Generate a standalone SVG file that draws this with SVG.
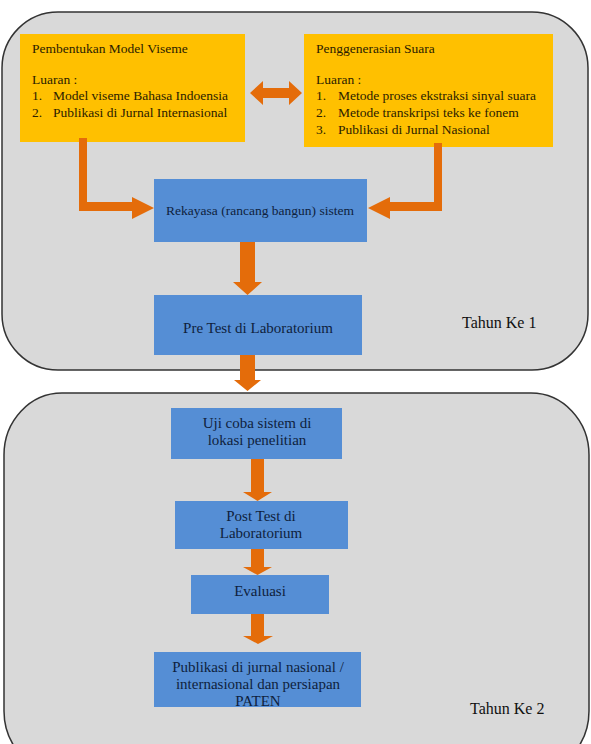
<svg xmlns="http://www.w3.org/2000/svg" width="591" height="744" viewBox="0 0 591 744">
<defs>
<style>
.panel{fill:#d9d9d9;stroke:#333;stroke-width:1.5}
.yellow{fill:#ffc000}
.blue{fill:#558ed5}
.arrow{fill:#e46c0a}
text{font-family:"Liberation Serif","Times New Roman",serif}
.yt{font-size:13.5px;fill:#2b2100}
.bt{font-size:13.5px;fill:#0f1f3d}
.bt15{font-size:15px;fill:#0f1f3d}
.lbl{font-size:16px;fill:#111}
</style>
</defs>
<rect width="591" height="744" fill="#ffffff"/>
<g id="year1">
<rect class="panel" x="2" y="12" width="586" height="358" rx="56" ry="56"/>
<text class="lbl" x="462" y="328">Tahun Ke 1</text>
</g>
<g id="year2">
<rect class="panel" x="4" y="393" width="585" height="380" rx="58" ry="62"/>
<text class="lbl" x="470" y="714">Tahun Ke 2</text>
</g>
<g id="node-viseme">
<rect class="yellow" x="20" y="34" width="225" height="108"/>
<text class="yt" x="32" y="53">Pembentukan Model Viseme</text>
<text class="yt" x="32" y="84">Luaran :</text>
<text class="yt" x="32" y="100">1.</text><text class="yt" x="53" y="100">Model viseme Bahasa Indoensia</text>
<text class="yt" x="32" y="117">2.</text><text class="yt" x="53" y="117">Publikasi di Jurnal Internasional</text>
</g>
<g id="node-suara">
<rect class="yellow" x="304" y="34" width="249" height="113"/>
<text class="yt" x="316" y="53">Penggenerasian Suara</text>
<text class="yt" x="316" y="84">Luaran :</text>
<text class="yt" x="316" y="100">1.</text><text class="yt" x="338" y="100">Metode proses ekstraksi sinyal suara</text>
<text class="yt" x="316" y="117">2.</text><text class="yt" x="338" y="117">Metode transkripsi teks ke fonem</text>
<text class="yt" x="316" y="134">3.</text><text class="yt" x="338" y="134">Publikasi di Jurnal Nasional</text>
</g>
<g id="node-rekayasa">
<rect class="blue" x="154" y="179" width="213" height="63"/>
<text class="bt" x="260" y="215" text-anchor="middle">Rekayasa (rancang bangun) sistem</text>
</g>
<g id="node-pretest">
<rect class="blue" x="154" y="295" width="208" height="60"/>
<text class="bt15" x="258" y="333" text-anchor="middle">Pre Test di Laboratorium</text>
</g>
<g id="node-ujicoba">
<rect class="blue" x="171" y="408" width="171" height="51"/>
<text class="bt15" x="257" y="428" text-anchor="middle">Uji coba sistem di</text>
<text class="bt15" x="257" y="445" text-anchor="middle">lokasi penelitian</text>
</g>
<g id="node-posttest">
<rect class="blue" x="175" y="501" width="173" height="48"/>
<text class="bt15" x="261" y="521" text-anchor="middle">Post Test di</text>
<text class="bt15" x="261" y="538" text-anchor="middle">Laboratorium</text>
</g>
<g id="node-evaluasi">
<rect class="blue" x="191" y="575" width="138" height="39"/>
<text class="bt15" x="260" y="596" text-anchor="middle">Evaluasi</text>
</g>
<g id="node-publikasi">
<rect class="blue" x="154" y="652" width="207" height="55"/>
<text class="bt15" x="258" y="672" text-anchor="middle">Publikasi di jurnal nasional /</text>
<text class="bt15" x="258" y="689" text-anchor="middle">internasional dan persiapan</text>
<text class="bt15" x="258" y="706" text-anchor="middle">PATEN</text>
</g>
<g id="connectors">
<polygon class="arrow" points="250,93 263,81 263,88 289,88 289,81 302,93 289,105 289,98 263,98 263,105"/>
<polygon class="arrow" points="79,138 87,138 87,202 132,202 132,197 154,208 132,219 132,211 79,211"/>
<polygon class="arrow" points="434,143 442,143 442,211 390,211 390,219 368,208 390,197 390,202 434,202"/>
<polygon class="arrow" points="240,242 255,242 255,282 262,282 247.5,295 233,282 240,282"/>
<polygon class="arrow" points="240,355 255,355 255,380 261,380 247.5,391 234,380 240,380"/>
<polygon class="arrow" points="251,459 264,459 264,492 272,492 257.5,501 243,492 251,492"/>
<polygon class="arrow" points="251,549 264,549 264,567 272,567 257.5,575 243,567 251,567"/>
<polygon class="arrow" points="251,614 264,614 264,636 273,636 258,644 243,636 251,636"/>
</g>
</svg>
